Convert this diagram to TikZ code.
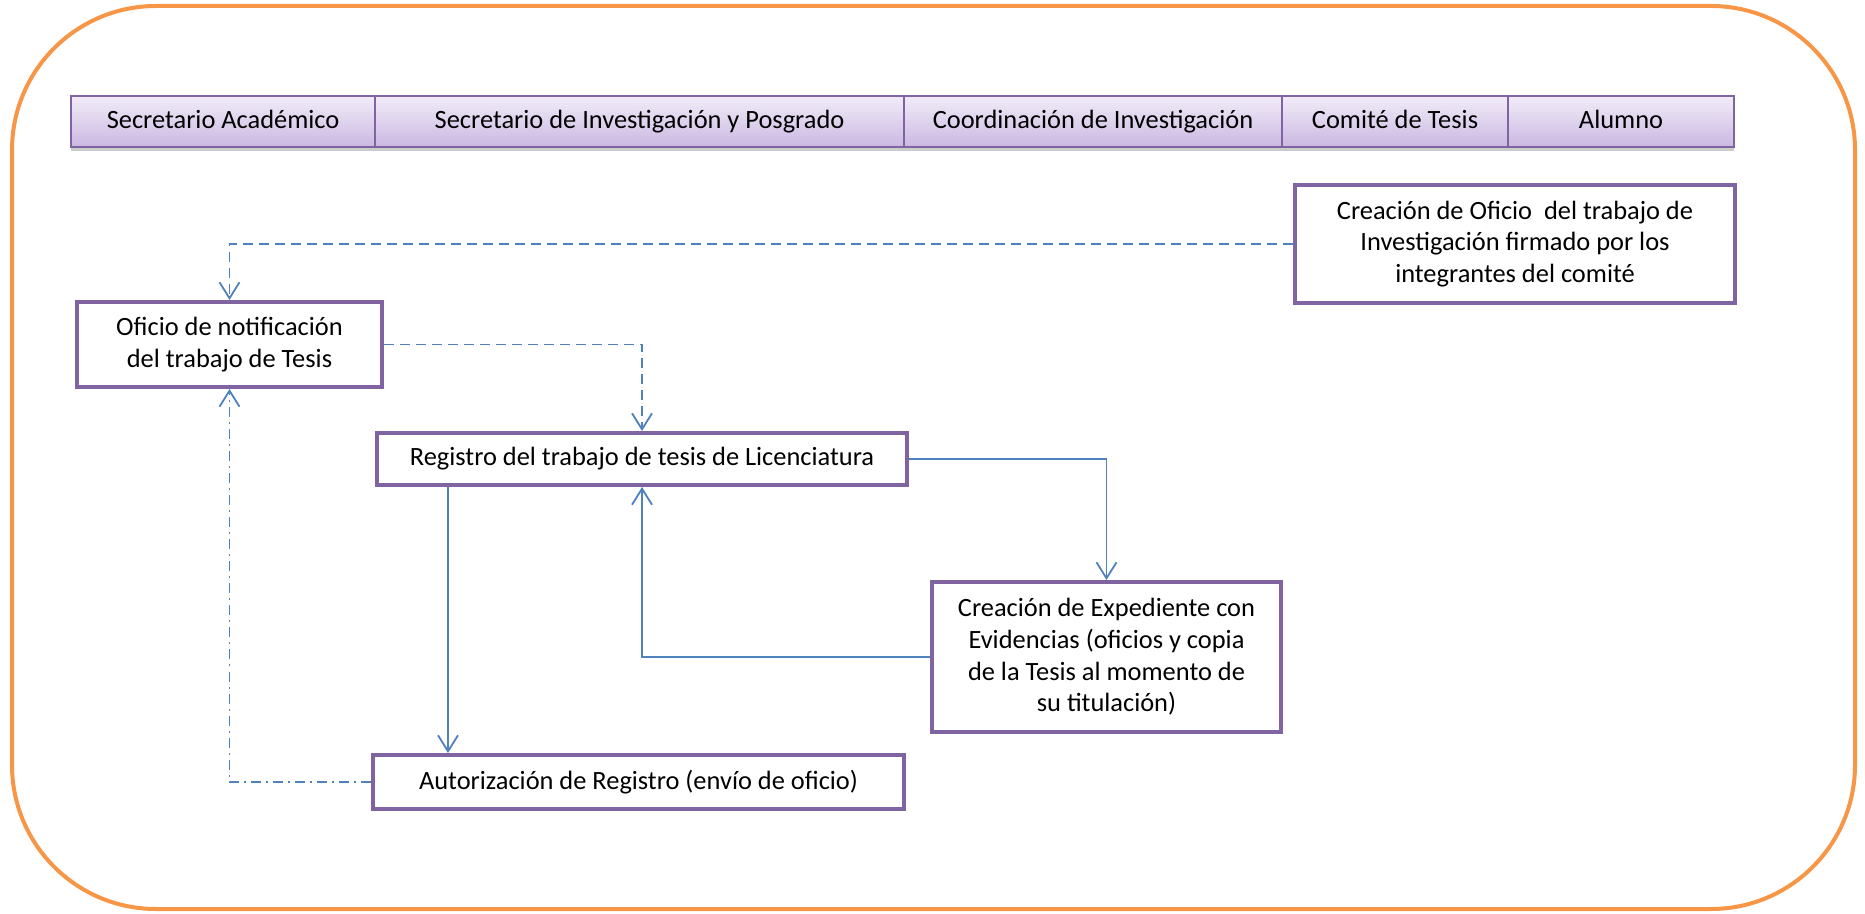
\documentclass[tikz,border=0pt]{standalone}
\usepackage{fontspec}
\setmainfont{Carlito}
\usetikzlibrary{arrows.meta,shadows}
\definecolor{marco}{HTML}{F79646}
\definecolor{lila}{HTML}{8064A2}
\definecolor{azul}{HTML}{4F81BD}
\definecolor{lilaclaro}{HTML}{F1ECF8}
\definecolor{lilaoscuro}{HTML}{CBB8E2}
\begin{document}
\begin{tikzpicture}[x=0.5pt,y=-0.5pt,
    rol/.style={draw=lila,line width=0.8pt,top color=lilaclaro,bottom color=lilaoscuro,
      minimum height=25.5pt,inner sep=0pt,text height=9.6pt,text depth=2.4pt,
      font=\fontsize{13.2}{16}\selectfont,
      drop shadow={shadow xshift=0pt,shadow yshift=-1.8pt,opacity=0.4}},
    paso/.style={draw=lila,line width=2pt,fill=white,align=center,inner sep=0pt,
      font=\fontsize{13.2}{15.8}\selectfont},
    flujo/.style={azul,line width=0.9pt,-{Straight Barb[length=8pt,width=10pt]}},
    guion/.style={dash pattern=on 5pt off 3pt}]
  \useasboundingbox (0,0) rectangle (1865,914);
  \draw[marco,line width=2pt,rounded corners=72pt] (12,6) rectangle (1855,909);

  \node[rol,minimum width=152pt] (sa) at (223,121.5) {Secretario Académico};
  \node[rol,minimum width=264.5pt] (sip) at (639.5,121.5) {Secretario de Investigación y Posgrado};
  \node[rol,minimum width=189pt] (ci) at (1093,121.5) {Coordinación de Investigación};
  \node[rol,minimum width=113pt] (ct) at (1395,121.5) {Comité de Tesis};
  \node[rol,minimum width=113pt] (al) at (1621,121.5) {Alumno};

  \node[paso,minimum width=220pt,minimum height=59pt] (creac) at (1515,244)
    {Creación de Oficio\ \ del trabajo de\\Investigación firmado por los\\integrantes del comité};
  \node[paso,minimum width=152.5pt,minimum height=42.5pt] (ofi) at (229.5,344.5)
    {Oficio de notificación\\del trabajo de Tesis};
  \node[paso,minimum width=265pt,minimum height=26pt] (reg) at (642,459)
    {Registro del trabajo de tesis de Licenciatura};
  \node[paso,minimum width=174.5pt,minimum height=75pt] (exped) at (1106.5,657)
    {Creación de Expediente con\\Evidencias (oficios y copia\\de la Tesis al momento de\\su titulación)};
  \node[paso,minimum width=265.5pt,minimum height=27pt] (autor) at (638.5,782)
    {Autorización de Registro (envío de oficio)};

  \coordinate (bajada) at ([xshift=-97pt]reg.south);
  \draw[flujo,guion] (creac.west) -| (ofi.north);
  \draw[flujo,guion] (ofi.east) -| (reg.north);
  \draw[flujo] (reg.east) -| (exped.north);
  \draw[flujo] (exped.west) -| (reg.south);
  \draw[flujo] (bajada) -- (bajada |- autor.north);
  \draw[flujo,dash pattern=on 5pt off 2.5pt on 1pt off 2.5pt] (autor.west) -| (ofi.south);
\end{tikzpicture}
\end{document}
